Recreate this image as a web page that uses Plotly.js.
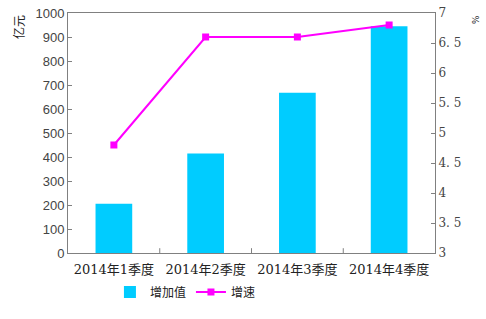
<!DOCTYPE html>
<html><head><meta charset="utf-8">
<script src="https://cdn.plot.ly/plotly-3.0.1.min.js"></script>
<style>html,body{margin:0;padding:0;background:#fff}#c{width:486px;height:319px}</style>
</head><body><div id="c"></div>
<script>
const categories = ["2014年1季度","2014年2季度","2014年3季度","2014年4季度"];
const addedValue = [205, 415, 668, 945];
const growthRate = [4.8, 6.6, 6.6, 6.8];
const leftTicks = [0,100,200,300,400,500,600,700,800,900,1000];
const rightTicks = [3,3.5,4,4.5,5,5.5,6,6.5,7];
const rightTickText = ["3","3. 5","4","4. 5","5","5. 5","6","6. 5","7"];

const traces = [
  {type:'bar', x:categories, y:addedValue, name:'增加值', marker:{color:'#00CCFF'}, width:0.4, yaxis:'y'},
  {type:'scatter', mode:'lines+markers', x:categories, y:growthRate, name:'增速', yaxis:'y2',
   line:{color:'#FF00FF', width:2}, marker:{symbol:'square', size:7, color:'#FF00FF'}}
];
const layout = {
  width:486, height:319, margin:{l:68, r:51, t:13, b:66},
  paper_bgcolor:'#fff', plot_bgcolor:'#fff', showlegend:true,
  font:{family:"'Liberation Sans', Arial, sans-serif", size:13, color:'#333'},
  xaxis:{type:'category', automargin:false, showline:true, linecolor:'#808080', mirror:true, ticks:'', showgrid:false,
    ticklabelstandoff:4,
    tickfont:{family:"'DejaVu Serif', 'Noto Sans CJK SC', serif", size:13, color:'#222'}},
  yaxis:{range:[0,1000], automargin:false, tickvals:leftTicks, showline:true, linecolor:'#808080', ticks:'inside', ticklen:4,
    tickcolor:'#808080', showgrid:false, zeroline:false, tickfont:{size:13, color:'#444'}},
  yaxis2:{range:[3,7], automargin:false, tickvals:rightTicks, ticktext:rightTickText, overlaying:'y', side:'right', showline:true,
    linecolor:'#808080', ticks:'inside', ticklen:4, tickcolor:'#808080', showgrid:false, zeroline:false,
    tickfont:{family:"'DejaVu Serif', serif", size:12, color:'#444'}},
  legend:{orientation:'h', x:0.32, xanchor:'center', y:-0.162, yanchor:'middle', itemwidth:30,
    font:{family:"'Noto Sans CJK SC', sans-serif", size:12, color:'#222'}},
  annotations:[
    {text:'亿元', xref:'paper', yref:'paper', x:-0.136, y:1.0, xanchor:'center', yanchor:'top', showarrow:false, textangle:-90,
     font:{family:"'Noto Sans CJK SC', sans-serif", size:12, color:'#222'}},
    {text:'%', xref:'paper', yref:'paper', x:1.109, y:1.0, xanchor:'center', yanchor:'top', showarrow:false, textangle:90,
     font:{family:"'DejaVu Sans', sans-serif", size:9, color:'#222'}}
  ]
};
const shapes = [];
for (let i=1;i<categories.length;i++){
  shapes.push({type:'line', xref:'x', yref:'paper', x0:i-0.5, x1:i-0.5, y0:0, y1:0.02, line:{color:'#808080', width:1}});
}
layout.shapes = shapes;
Plotly.newPlot('c', traces, layout, {displayModeBar:false, staticPlot:true});
</script></body></html>
